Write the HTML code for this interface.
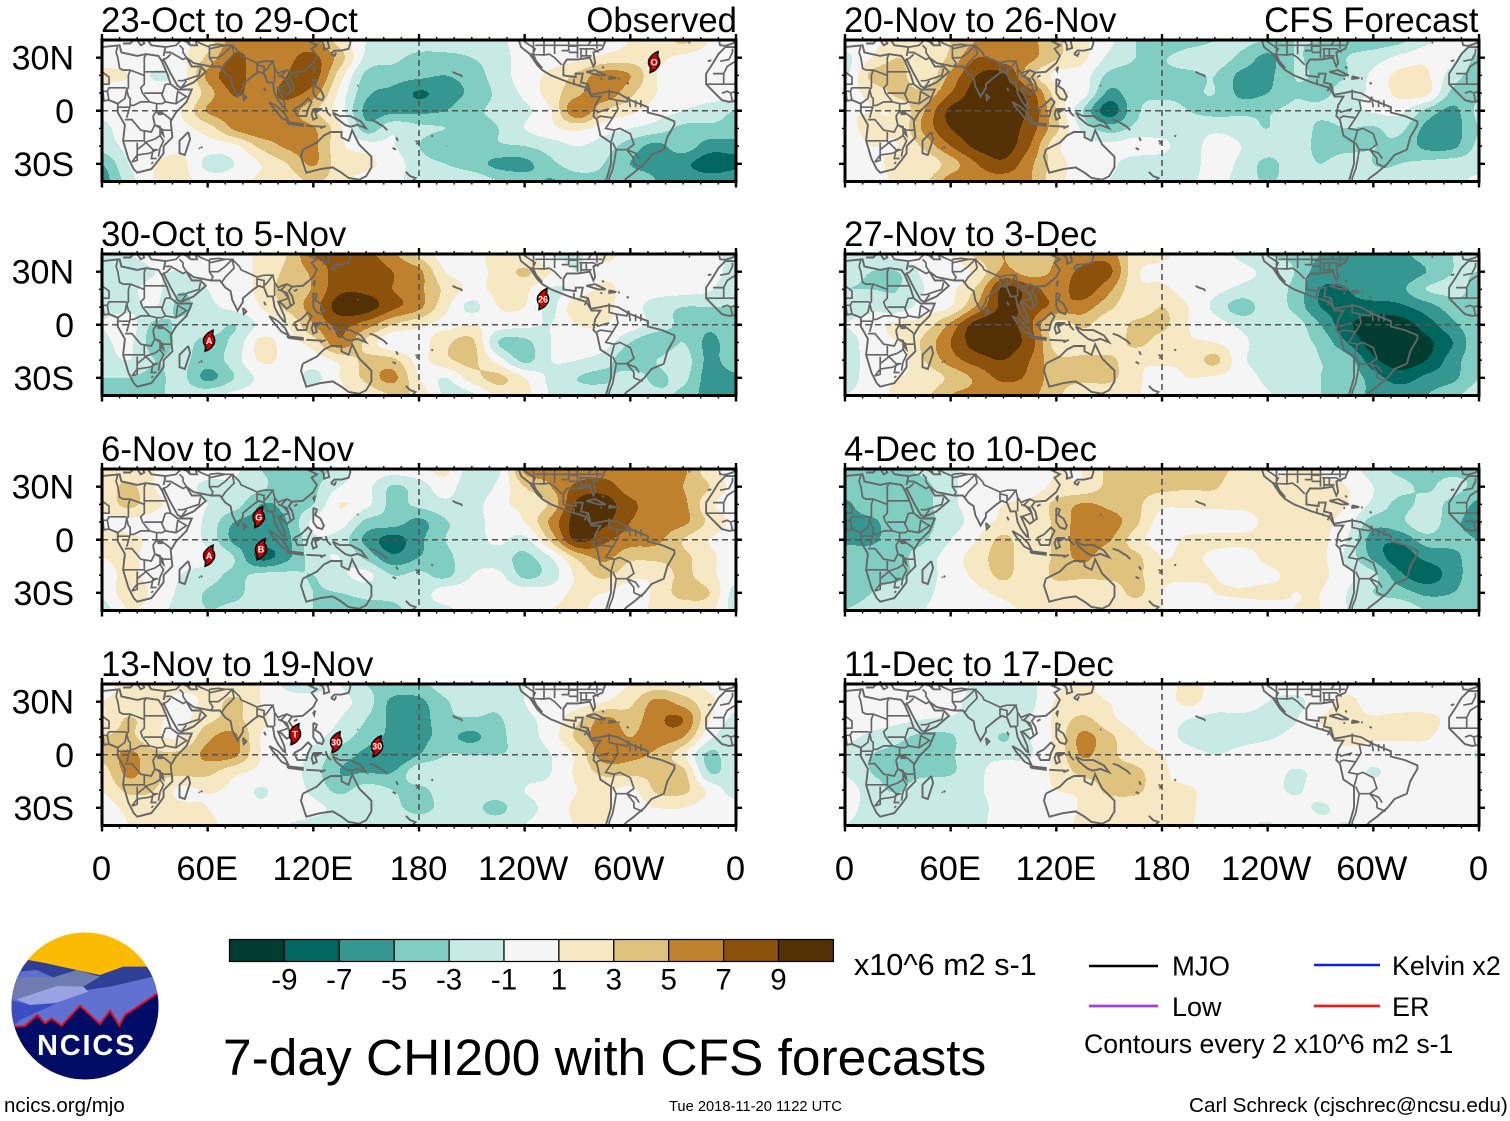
<!DOCTYPE html>
<html lang="en">
<head>
<meta charset="utf-8">
<title>7-day CHI200 with CFS forecasts</title>
<style>
html,body{margin:0;padding:0;background:#fff;}
svg{display:block;font-family:"Liberation Sans",Arial,sans-serif;}
</style>
</head>
<body>
<svg id="chart" xmlns="http://www.w3.org/2000/svg" width="1510" height="1121" viewBox="0 0 1510 1121">
  <rect width="1510" height="1121" fill="#fff"/>
  <g id="panels"></g>
  <g id="colorbar"></g>
  <text x="854" y="975" font-size="30.6">x10^6 m2 s-1</text>
  <text x="223" y="1075" font-size="51.45">7-day CHI200 with CFS forecasts</text>

  <g>
    <line x1="1089" x2="1158" y1="966" y2="966" stroke="#000" stroke-width="2.4"/>
    <text x="1172" y="975.5" font-size="27.5">MJO</text>
    <line x1="1314" x2="1380" y1="965" y2="965" stroke="#0a1fe8" stroke-width="2.4"/>
    <text x="1392" y="975" font-size="26.8">Kelvin x2</text>
    <line x1="1089" x2="1158" y1="1006" y2="1006" stroke="#a040d8" stroke-width="2.8"/>
    <text x="1172" y="1016" font-size="27">Low</text>
    <line x1="1314" x2="1380" y1="1006" y2="1006" stroke="#e8201c" stroke-width="2.8"/>
    <text x="1392" y="1016" font-size="27">ER</text>
    <text x="1084" y="1053" font-size="26.65">Contours every 2 x10^6 m2 s-1</text>
  </g>

  <text x="4" y="1112" font-size="20.5">ncics.org/mjo</text>
  <text x="669" y="1111" font-size="14.7">Tue 2018-11-20 1122 UTC</text>
  <text x="1189" y="1112" font-size="20.7">Carl Schreck (cjschrec@ncsu.edu)</text>

  <g>
    <clipPath id="logo-clip"><circle cx="85" cy="1006" r="73.5"/></clipPath>
    <g clip-path="url(#logo-clip)">
      <rect x="10" y="930" width="150" height="152" fill="#fbbb00"/>
      <g transform="translate(0,920) scale(.33333)">
        <polygon points="85,120 140,130 230,150 300,165 370,140 440,140 490,200 30,240 55,155" fill="#2f3f95"/>
        <polygon points="55,155 110,150 160,172 30,240" fill="#5a6fd0"/>
        <polygon points="40,175 100,170 160,172 230,150 300,170 250,200 260,210 50,240 25,240" fill="#6f7cb0"/>
        <polygon points="260,210 330,200 460,170 490,220 490,400 20,400 25,240" fill="#6171d2"/>
        <polygon points="50,238 170,198 250,200 265,215 170,248 90,255" fill="#97a3e2"/>
        <polygon points="25,238 90,255 170,250 60,300 40,320" fill="#3a4dc2"/>
        <polygon points="40,320 75,318 112,285 135,310 155,296 185,317 240,257 300,312 330,272 358,317 375,285 480,215 490,490 20,490" fill="#000c66"/>
        <polyline points="40,320 75,318 112,285 135,310 155,296 185,317 240,257 300,312 330,272 358,317 375,285 480,215" fill="none" stroke="#e0101c" stroke-width="6"/>
      </g>
    </g>
    <text x="37" y="1055" font-size="29" font-weight="bold" fill="#fff" letter-spacing="1.8">NCICS</text>
  </g>
</svg>

<script>
// ---------- axis / label data ----------
const lonTickValues = [0, 60, 120, 180, 240, 300, 360];
const lonTickLabels = ['0', '60E', '120E', '180', '120W', '60W', '0'];
const latTickValues = [30, 0, -30];
const latTickLabels = ['30N', '0', '30S'];
const colorLevels = [-9, -7, -5, -3, -1, 1, 3, 5, 7, 9];
const bandColors = ['#003c30', '#01665e', '#35978f', '#80cdc1', '#c7eae5', '#f5f5f5', '#f6e8c3', '#dfc27d', '#bf812d', '#8c510a', '#543005'];
const panelTitles = ['23-Oct to 29-Oct', '30-Oct to 5-Nov', '6-Nov to 12-Nov', '13-Nov to 19-Nov', '20-Nov to 26-Nov', '27-Nov to 3-Dec', '4-Dec to 10-Dec', '11-Dec to 17-Dec'];

// ---------- field values: rows 40N..40S every 10 deg, columns 0..360E every 15 deg ----------
const field1 = [
[0,0,0,0.5,2,6,6,6,5.5,2,-1,-2,-2,-2,-2,-1.5,0,0,0,0,1,1.5,3.5,1,0],
[0,0,0,0.5,3.5,7.3,6,6.5,7.5,4,-1.5,-2.5,-3.5,-3.5,-3,-2,0,0,0.5,1.5,2,1.5,0.5,0,0],
[1.5,1,-1.2,0,5.5,8,5.5,7,8,2,-3.5,-4,-4.5,-5,-4,-2,0,1.5,3.5,6,5,1,0,0,1],
[0,0,0,0,4,7.2,6,7.5,6,0.5,-4.5,-5.5,-7.2,-6,-4.5,-2.5,-0.5,2,4.5,6.5,3.5,1,0,0,0],
[-0.5,0,0,1,5.2,6,6,6,3.5,0,-5.5,-5.5,-5.5,-5,-3.5,-2.5,-1.5,1,6.8,3,1.5,0,-1,-2,-3],
[-1.5,0,0,0.5,2,5.3,6.5,5.5,5.2,1.5,-4,-1.5,-2.5,-3,-3.5,-3,-1,0.5,1.5,0,-1,-2,-3.5,-3.5,-3.5],
[-2,-0.5,0,0.5,0,0.5,3.5,5.3,5.5,1.5,0,-0.8,-3,-5,-3.5,-3.2,-3,-2,-1,-2,-4,-5.5,-4,-6,-6],
[-5,-1,1,1.5,-1.5,-1,1,3,5.2,2,1.5,0,-2,-3,-4,-5.5,-5.5,-3.5,-2,-3,-5,-5.5,-6.5,-8,-7.5],
[-6,-2,1,1.5,0,0,1.5,2,3.2,2,0,0,-2.5,-2,-1.5,-3,-4,-5.2,-4,-3.5,-4,-5,-5.5,-6,-5.5]];
const field2 = [
[-1.5,-1,0,0,0,0,1.5,3,7,7.5,7.5,5.5,2.5,0,0,2,1,-1,-1.5,1.5,0,0,0,-0.5,-1.5],
[-2.5,-2.5,-1,-1,0,0,1.5,3.5,5.5,8,8.5,7,5.5,1,0.5,1.5,3.3,1,-1,0.5,0,-0.5,0,0,-2],
[-2,-1.5,-0.5,-2.8,-1,0,1.5,4,5.2,8.5,8.5,7,5.5,2.5,0.5,1.5,1.5,-1.2,-0.3,1.5,0,-0.2,-0.2,-0.8,-3],
[-1.5,-1.5,-1,-3.5,-1.5,-0.5,1,3.5,6,10,10,7.5,5.5,1.5,-1.5,1,1,-1.5,2.5,1.5,0,-2,-3,-3,-3],
[-1,0,-3.5,-2.5,-2,-3,-0.5,1,5,7.5,6,3,1.5,0.5,1,0,-0.5,-1,1,1,0,-2,-3.5,-4.5,-3.5],
[-1.5,-0.5,-4,-2.5,-3.5,-2.5,1.5,0.5,2,6.5,2.5,-0.5,0,2.5,3.5,-3,-3.5,-1,0,0,-3,-4.5,-3,-5.5,-3.5],
[-2,-1,-3,-2.5,-4,-2,1.2,0.5,0,1.5,3.5,3.5,0.5,2.5,3.5,0,-3.5,-1,-1,-2,-4.5,-3,-2,-5.5,-3.5],
[-3,-3,-3.5,-2.5,-5.5,-3,-0.5,0,-1.5,1,3.5,5.5,1,-1,2,3.5,1,-1.5,-3,-3.5,-2,-3.5,-2.5,-6,-5.5],
[-3.5,-3.5,-3.5,-2,-1.5,-0.5,0,0,0,0.5,1.5,3,2.5,-1.5,-1.5,1.5,1.5,-1.2,-2,-1.5,-2,-2.5,-3.5,-6,-6]];
const field3 = [
[1.5,1.5,1,0,0,-0.5,-3,-3.5,-4,-2,0,0,0.5,1.5,-2,-1.5,5.5,5.5,6,6,6,6.5,5.5,1.5,0],
[1.5,3.5,1,0,-1.5,-1.5,-2.5,-4.5,-3.5,-1,-0.5,-3.2,-2,0,-2.5,-0.5,3,5,7.5,8,6,6.5,5,3,0],
[1.5,3.5,1.5,0,-1,-2,-5,-4.5,-3,1,-0.5,-3.5,-2.5,-1.5,-2,0.5,1.5,3.5,9.5,10,7.5,6,5.5,1.5,0],
[0.5,0.5,0,0,-1.5,-5,-5.5,-5,-0.5,0,-3.5,-4,-5.5,-3.2,-2,0,1,5.5,10,9.5,7,6,5.5,2.5,0.5],
[1.5,1.5,0.5,0,-1.5,-5.5,-6,-5.5,-1.5,-2,-5.5,-7.8,-5.5,-3,-2,-0.5,-1.5,3.5,9.5,7.5,6,5.5,3,1,0],
[1,1.5,0,-0.5,-0.5,-3,-7.5,-5.5,-2,-1,-3.5,-6.5,-5,-3.5,-2,-2,-3.5,-1,3.5,5.5,3.5,3.5,3.5,1.5,0],
[0,1.5,0,-1,-2,-3.5,-2.5,-2.5,-3,-1.5,-0.5,-3,-2.5,-3.5,-1,-0.5,-3.5,-2,1.5,3.5,1.5,1.5,3.5,1.5,0],
[-0.5,2,0.5,-1.5,-3.2,-3.5,-2,-2,-3,-3,-2.5,-2.5,-2,0,0,0.5,0,0,1.5,1,0,1.5,3.8,3,-2],
[-2,1,0,-2,-3,-2.5,-2,-2.5,-3,-3.5,-3.5,-3.5,-2,-1.5,0,0,0,1,1.5,0,0,1.5,1.5,1.5,-2]];
const field4 = [
[0.5,1.5,1.5,1.5,1.5,1.5,1,-1.5,-1.5,-1,-3,-3.5,-3.5,-2,-2,-2,-1,0,0,0,1,2,1.5,0.5,0],
[1,1.5,1.5,0.5,1.5,3.5,1,0,-0.5,-0.5,-2,-5.5,-5.5,-3.2,-2.2,-2.5,-1,0,0,1,2.5,5.5,4,1.5,-0.5],
[1,3.2,1.5,0.5,2.5,3.5,1.5,0,0,-1,-3,-5.5,-6,-3.5,-3.2,-3.2,-1.5,-0.2,2.5,5.5,4,6.5,7,1,-1.5],
[3,3.5,1.5,1,4.5,5.5,1,0,-0.5,-2,-4,-5.5,-5.5,-4.5,-5.5,-3.5,-2,0,3.5,6,5,6,5,-0.5,-2],
[3.5,5.5,3.5,3.5,5.5,5.5,1,0,-1.5,-4,-5.5,-7,-5,-3,-3,-3,-2.5,-1,1.5,6,5.5,4.5,1.5,-3.5,-1],
[2,5.5,3.5,3.5,3.5,1.5,0.5,0,-2,-5,-5,-5,-1.5,-2,-1.5,-2,-1.5,-1,1.5,3.5,3.5,3.5,3.5,-3,-1.5],
[1,3.5,3,0.5,1.2,0.5,-1.2,0,-1.5,-3.5,-2,-3,-3.5,-2,-2,-2,-1,-0.5,1,1.5,0.5,3.3,3.5,0.5,-2],
[0,1.5,1.5,1.5,1,0.5,-0.5,0,-0.5,-1.5,-1.5,-2.5,-3.5,-2.5,-2.5,-3.5,-1.5,-0.5,1.5,1.5,0,1,1,0,0],
[0,1,1.5,1.5,1.5,0,0,-1,-1.5,-2,-2,-2,-2,-2,-2,-2,-1,-0.5,1.2,1,0,-0.5,0,0,0]];
const field5 = [
[0,0.5,1.5,1.5,3,5,6,5.5,3.5,1.5,-0.5,-3,-5,-4,-3,-2.5,-3,-3,-3,-3.5,-4,-3.5,-1.5,0,-1],
[-1.5,1,3,1.5,3.5,7,6,5.5,3.2,1.5,-1.5,-3,-3.2,-2,-2,-3.5,-5.5,-3,-3.5,-3,-2,-0.5,0.5,-0.5,-3.5],
[-1.5,3.5,3.8,1.5,5.5,9,9.5,4,0.5,0,-3.5,-3.5,-3.5,-3.5,-3,-5.5,-5.5,-3,-3.2,-3,-0.5,1.5,1.3,-2,-4],
[0.5,1.5,3.5,3.5,7,10,10,8,2,0,-5.5,-3.5,-3.5,-3.5,-3,-5.5,-5,-3.2,-3.5,-2,-0.5,1.5,1.5,-3.5,-3.5],
[1,1,1.5,5,9.5,10,10,8.5,3,-3,-8,-3.5,-2,-3,-3.5,-3.5,-3.2,-2.5,-2.5,-1.5,-0.8,-0.5,-3.5,-5.5,-2.5],
[0.5,1.5,1.5,5.5,9,10,10,8,3.5,-1.5,-4,-2.5,-2,-2,-1.5,-2,-3,-1.5,-3.5,-3,-3.2,-2.5,-5.5,-6,-3],
[0,1,1,3.5,7,9.5,10,7,1.5,0,-0.5,0,-0.5,-2,0,-1,-2,-2,-3.5,-3.5,-3,-3.5,-5.5,-5.5,-2.5],
[0,0.5,1.5,1.5,4,7,8.5,5.5,2,0,-0.5,-2,-2,-2,0,-1.5,-3.5,-2,-3,-2,-3,-3,-2.5,-2,-2],
[0,0,1.5,2.5,6,6,6,5.2,1.5,0.5,-1,-2,-2,-1.5,-0.2,-2,-3.2,-2.2,-2,-2,-2.5,-2.5,-2,-1.5,-0.5]];
const field6 = [
[-1,-1.5,0,0,1,3.5,5,3.5,5,6,6,2,1.5,0,0,-1.5,-3,-3.5,-5,-5.5,-5.5,-5.5,-4,-3,-2.5],
[-2,-3,-3,-0.5,0,1.5,5.5,4,5.5,7.5,7.5,1.5,0.5,0,0,-0.5,-1.5,-3,-6,-5.5,-6,-6.5,-5,-3,-3],
[-3,-3,-3,-1,0.5,3.5,9.5,8,6,8,5.5,1.5,1.5,0,-0.5,-1.5,-2,-3.5,-7,-7,-5.5,-5.5,-3,-2.5,-3.5],
[-2,-1.5,-2,0,1,5.5,9.5,8,6.5,6,3.5,1.5,3,1,-1.5,-4,-2,-3.5,-7,-7.5,-8,-7.5,-6,-4,-3],
[-1,0,1.5,2,5.5,10,10,7.5,2,3.5,1.5,3.5,3.5,1,0,-1.5,-2,-2,-5,-8.5,-10,-10,-8,-5.5,-3.5],
[-2,0,1,3.5,7,10,10,8,2,1.5,1.5,3.5,2,1.2,1,-0.5,-2,-2.5,-3.5,-7,-10,-10,-9.5,-7,-3.5],
[-2,-0.2,0,3,6,8,9,7,3.5,3.5,3.5,1.5,1.5,1.5,3.5,-0.5,-2,-2.5,-3,-4,-8.5,-10,-9,-6,-3.5],
[-2,0,1,1.5,3.5,5.5,7.5,6.5,3.8,3.5,3.5,1.5,0,1,0.7,0,-1.5,-2.5,-3,-3.5,-6,-8,-6.5,-5.5,-3],
[-1,0,1.5,2.5,5,5.5,5.5,5.5,3.5,1.5,1.5,1.2,0,0,0,0,-0.8,-2,-3,-3.5,-5.5,-5.5,-5,-3.5,-2]];
const field7 = [
[-3.5,-3.5,-3.5,-2.5,-1.5,0,0,0,1,1,3.5,3.5,3.5,3.5,3.5,2.5,1,1,1,0,-2,-3.5,-3.5,-3.5,-3.5],
[-3.5,-3.5,-3.5,-3.5,-1.5,0,0,0,1.5,1.5,3.5,3.5,3.5,3.2,3.2,1.5,1.2,1.2,1.2,1,-1,-2.5,-3.2,-2.5,-3.5],
[-5.5,-3.5,-3.5,-3.5,-1.5,0,1,1.5,3.5,5.2,4.5,3.5,1.5,1.5,1.5,1.5,1.5,1.5,1.5,1,-1.5,-3.5,-2.5,-3.5,-5.5],
[-5.5,-5.5,-3.5,-3.5,-2,0,1.5,1.5,3.5,6,6,3.5,0,-0.5,0,0,1.5,1.5,1.5,0,-4,-3.5,-1.5,-4.5,-5.5],
[-5.5,-5.5,-3.5,-3.2,-1,1,3.5,1.5,3.5,6,5.2,2,0,1.5,1.5,1.5,1.5,1.5,1.5,-1,-6,-6.5,-4,-4.5,-5],
[-3.5,-3.5,-3.5,-2,0,2,3.8,1.5,3.5,5.5,3.5,3.5,1,1.5,0.5,0,1.5,1.5,1.5,-1.5,-5.5,-8,-6.5,-5.5,-4],
[-3.5,-3.5,-3.5,-2,0,1.5,3.5,1.5,3.5,3.5,3.5,3.5,1.5,1.5,1,0,0.5,1.5,1.5,-0.5,-2.5,-6.5,-8,-6,-3.5],
[-3.5,-3,-2,-1.5,0,0.5,1.5,1.5,1.5,1.5,1.5,3.5,1,0,1,1.2,1.5,1,1,-1,-3,-4,-5.5,-5,-3.5],
[-3,-2.5,-1.5,-1,0,0,0.5,1.5,1.5,1.5,1.5,1.5,1,0,0,0,0,1,1,-1,-1.5,-1.5,-3,-3.5,-3.5]];
const field8 = [
[0,0,0,0,0,-1.5,-2,-1.5,0.5,1.5,0.2,0,0,1.5,0.5,0,0,0,0,0,0,0,0,0,0],
[0,0,0,0,-0.5,-1.5,-1.5,-1.5,1.2,1.5,1,0,0,1.5,0,0,-1,-1.5,0,1.5,0,0,0,0,0],
[0,0,-0.5,-1,-1.2,-1.5,-1.5,-1,1.5,3.5,1.5,0.2,0,-1,-1.5,-1.5,-1.5,-1.2,1,1.5,1.2,1.5,1.5,0.5,0],
[-0.5,-1.5,-2.5,-3.5,-3.3,-1.2,-3.2,-1,1.5,5.5,3.5,1.2,0,-1.5,-1.8,-1.5,-1.2,-0.5,0.5,1.5,1.2,1.2,1.2,0,0],
[-1.5,-3,-3.5,-3.5,-3.2,-1.5,-1.5,-1.2,1.5,5.2,3.5,2,1,-0.3,-1,-0.5,0,0,0,0.5,0,0,0,0,-1.2],
[-1.2,-3,-3.5,-3.5,-3.2,-1.5,0,0,1.5,3.5,3.5,3.5,1.5,0,0,0,0,-1.2,-0.5,0,-1.2,0,0,0,0],
[0,-2,-3.2,-1.5,-1.5,-1.3,0,0,1,1.5,3.5,3.5,1.5,1.3,0,0,0,-1.3,0,0,0,0,0,0,0],
[-0.5,-1.5,-1.5,-1.5,-1.5,-1.5,-0.3,0,0,1.2,1.5,1.5,1.5,1.3,0,0,0,0,-1.3,0,0,0,0,0,0],
[-1,-1.5,-1.5,-1.5,-1.5,-1.5,0,0,0,1.5,1.5,1.5,1.5,1.2,0,-0.5,-1.2,0,-0.2,-1.2,0,0,0,0,0]];
const panelFields = [field1, field2, field3, field4, field5, field6, field7, field8];

// ---------- tropical cyclones: panel index, label, lon, lat ----------
const stormPanels = [0, 1, 1, 2, 2, 2, 3, 3, 3];
const stormLabels = ['O', 'A', '26', 'A', 'G', 'B', 'T', '30', '30'];
const stormLons = [313.5, 60.8, 250.4, 60.8, 89, 90.3, 109.6, 132.9, 156.2];
const stormLats = [27.5, -9, 14.5, -9, 12.8, -5.4, 11.6, 7.1, 4.8];

// ---------- geography (lon 0..360, lat) ----------
const coastlines = [
[[0,36],[10,37],[11,33],[20,31],[25,32],[32,31],[34,28],[37,21],[39,15],[43,12],[51,12],[48,5],[42,-1],[39,-6],[40,-15],[35,-20],[35,-24],[32,-28],[28,-33],[20,-35],[18,-33],[15,-27],[12,-17],[13,-8],[9,-1],[9,4],[4,6],[0,5.5]],
[[49,-12],[50,-16],[47,-25],[44,-24],[44,-17],[49,-12]],
[[34,28],[35,29],[39,21],[43,14],[45,13],[52,16],[59,22],[56,25],[51,25],[48,30],[52,27],[57,26],[62,25],[67,25],[70,21],[73,19],[74,14],[77,8],[80,13],[80,15],[86,20],[89,22],[92,21],[94,16],[97,16],[98,10],[100,6],[103,2],[104,1.5],[103.5,5],[100,13],[101,13],[105,9],[109,12],[108,16],[106,19],[108,21.5],[114,22],[120,27],[122,31],[119,35],[122,37],[118,39],[122,40],[125,39],[126,37],[126,34.5],[129,35.5],[128,40]],
[[35,31],[36,36],[28,37],[26,40]],[[12,38],[16,38],[18,40]],[[20,40],[22,37],[24,38],[23,40]],[[50,37],[54,37],[53,40]],[[50,37],[49,40]],
[[130,32],[132,34],[136,34],[140,35],[141,38],[141,40]],[[130,32],[132,31],[133,33]],[[121,25],[120.5,22.5],[120,23.5],[121,25]],
[[120,18],[122,17],[121,14],[124,12],[126,8],[125,6],[122,7],[120,10],[120,14],[120,18]],
[[109,1],[113,3],[117,7],[119,5],[117,1],[116,-3],[111,-3],[109,1]],
[[95,5],[100,2],[104,-2],[106,-6],[102,-4],[97,2],[95,5]],
[[105,-6.5],[114,-7.5],[114,-8.5],[106,-7.5],[105,-6.5]],[[116,-8.5],[125,-9]],[[124,-10],[127,-8.5]],
[[120,1],[125,1],[121,-1],[122,-4],[120,-5],[119,-2],[120,1]],[[127,2],[128,-1],[130,-3]],
[[131,-1],[135,-3],[141,-3],[147,-6],[150,-10],[145,-8],[141,-9],[138,-8],[133,-4],[131,-1]],
[[114,-22],[122,-18],[126,-14],[130,-12],[136,-12],[136,-15],[140,-17],[142,-11],[146,-19],[153,-26],[153,-32],[150,-37],[146,-39],[140,-38],[136,-35],[131,-32],[124,-33],[116,-35],[115,-32],[113,-26],[114,-22]],
[[172.5,-34.5],[175,-37],[178,-38],[176,-40]],
[[152,-5],[155,-6],[160,-9],[162,-11]],[[167,-15],[168,-17]],[[165,-21],[167,-22]],[[178,-17],[180,-18]],[[178.5,-19],[179.5,-18]],[[187,-14],[188,-14.5]],[[199,22],[201,21],[204,20],[204.5,19]],[[145,14],[145.5,14.5]],[[56,-21],[57,-20.5]],[[55,-21],[55.5,-21.5]],[[80,9.5],[82,7.5],[80.5,6],[80,9.5]],[[92,13],[93,11]],[[333,38.5],[334,38.5]],[[109,19],[111,20]],
[[236.6,40],[238,36],[243,32],[245,30],[250,24],[247,27],[245,31.5]],
[[243,32],[247,26],[250,23],[255,20],[265,16],[275,13],[278,8],[283,8],[280,3],[279,-3],[281,-5],[283,-14],[289,-18],[289,-30],[287,-37],[286,-40]],
[[277.5,9],[276,15],[272,16],[273,21],[269,21],[269,19],[262,20],[262,26],[264,29],[270,29],[277,30],[279,25],[280,27],[279,33],[284,35],[286,40]],
[[277.5,9],[283,10],[288,11],[293,10],[300,6],[310,2],[310,-1],[318,-3],[325,-6],[325,-8],[321,-15],[319,-22],[312,-25],[308,-30],[302,-35],[298,-38],[296,-40]],
[[275,22],[280,23],[286,20],[282,20],[275,22]],[[288,19.5],[292,18.5],[288,18],[288,19.5]],[[283,18],[284,18]],[[293,18.3],[294,18.3]],[[298,16],[299,15]],[[284,25],[285,24]],
[[360,5.5],[356,5],[352,6],[347,11],[343,15],[343,21],[347,27],[350,32],[354,36],[360,36]],[[350.5,39],[351,37],[354,36.7],[358,38],[360,39.5]],[[344,28],[346,28.5]]
];
const borders = [
[[9,37],[8,33],[9,30],[10,24],[12,23],[16,23],[24,20],[24,30],[25,32]],[[24,22],[37,22]],[[24,20],[24,15],[22,13],[23,10],[27,5],[31,4],[34,4],[36,5],[42,4],[48,8],[43,11]],
[[16,23],[15,20],[15,13],[14,12],[15,8],[16,7],[16,3],[18,3],[22,5],[27,5]],[[4,6],[3,11],[4,13],[14,13]],[[14,12],[13,7],[9,4]],[[0,15],[4,15],[4,19],[0,22]],[[3,11],[0,11],[0,15]],[[1,6],[0.5,11]],
[[13,-5],[17,-5],[22,-11],[28,-12],[30,-8],[29,-3],[31,0],[31,4]],[[12,-17],[24,-17],[24,-11]],[[24,-18],[30,-16],[33,-14],[33,-9],[30,-8]],[[17,-29],[20,-28],[20,-18]],[[20,-22],[25,-18]],[[33,-14],[35,-17],[33,-21],[32,-26]],[[35,-11],[40,-11]],[[31,-1],[34,-1],[38,-4],[39,-5]],[[30,-8],[35,-11]],[[25,-18],[29,-22],[32,-22]],[[17,-29],[20,-25],[27,-24],[31,-22]],
[[32,0],[34,0],[34,-2],[32,-2],[32,0]],[[34,-10],[35,-14],[34,-13],[34,-10]],[[29,-4],[30,-8]],[[36,15],[34,9],[36,5]],[[43,11],[42,4]],[[36,15],[39,15]],[[24,10],[34,10]],[[10,2],[16,2]],[[9,2],[14,2]],[[16,3],[14,-4]],[[29,-22],[28,-27],[31,-27]],[[28,-30],[29,-29]],
[[347,21],[353,21],[355,25],[358,27],[360,28]],[[343,15],[348,15],[355,15],[360,15]],[[352,10],[355,11],[357,10],[358,5]],[[357,10],[360,11]],[[353,21],[353,15]],[[351,28],[356,29],[358,33],[358,35]],
[[36,36],[42,37],[45,40]],[[36,33],[39,33],[46,29],[48,30]],[[44,37],[46,35],[46,33],[48,30]],[[35,29],[37,30],[39,32]],[[43,17],[46,17],[52,19],[55,20],[56,24]],[[45,13],[48,17]],
[[61,37],[61,30],[63,27],[62,25]],[[61,35],[70,37],[74,37],[70,33],[66,30],[61,30]],[[74,37],[75,32],[70,27],[68,24]],[[78,33],[79,31],[88,27],[92,28],[97,28],[94,24],[92,22],[92,25],[88,26],[88,22]],[[97,28],[98,24],[100,21],[102,22],[105,23],[108,21.5]],[[100,20],[105,18],[106,15],[103,14],[100,13]],[[98,24],[98,16]],[[105,23],[102,20],[106,15],[107,11]],[[53,40],[56,38],[61,36]],[[61,37],[66,37.5],[70,37]],[[74,37],[78,33]],[[124,40],[128,40]],[[45,40],[48,39],[50,37]],
[[268,18],[268,14.5]],[[271,15],[272,13.5]],[[276,15],[274,11]],[[282,8],[283,7]],[[288,12],[288,7],[292,6],[293,1],[290,-4],[283,-3],[281,-4]],[[292,6],[298,5],[299,8]],[[299,8],[300,2]],[[303,6],[303,2]],[[306,6],[306,2]],[[290,-4],[286,-10],[291,-11],[294,-10],[300,-13],[302,-19],[298,-22]],[[290,-18],[292,-22],[291,-28],[290,-33],[288,-38],[288,-40]],[[292,-22],[298,-22],[302,-27],[302,-30]],[[298,-22],[303,-24],[305,-27]],[[302,-30],[307,-32]],[[289,-18],[291,-11]],[[281,-1],[284,0],[288,1]],
[[240,40],[240,39],[246,35],[245,33]],[[245,40],[245,32]],[[251,40],[251,31.5]],[[257,40],[257,32]],[[246,37],[258,37],[265,37],[276,37],[284,37]],[[243,32],[251,31.5],[254,32],[257,30],[261,26]],[[265,40],[265,34],[261,34]],[[270,40],[270,30]],[[272,35],[272,30]],[[275,35],[275,31]],[[265,33],[270,33]],[[271,35],[279,35],[282,33]],[[258,40],[265,40]],[[265,36.5],[270,36.5]],[[276,37],[278,40]],[[281,35],[281,40]],[[278,31],[272,31]]
];

// ---------- layout ----------
const SVGNS = 'http://www.w3.org/2000/svg';
const panelLefts = [102, 102, 102, 102, 845, 845, 845, 845];
const panelTops = [40, 254, 469, 684, 40, 254, 469, 684];
const panelW = 634, panelH = 141.5;

function create(tag, parent) {
  const el = document.createElementNS(SVGNS, tag);
  parent.appendChild(el);
  return el;
}
function xPos(panel, lon) { return panelLefts[panel] + lon / 360 * panelW; }
function yPos(panel, lat) { return panelTops[panel] + (40 - lat) / 80 * panelH; }

function catmull(a, b, c, d, t) {
  return b + 0.5 * t * (c - a + t * (2 * a - 5 * b + 4 * c - d + t * (3 * (b - c) + d - a)));
}
function sample(grid, lon, lat) {
  const nr = grid.length, nc = grid[0].length;
  const fx = lon / 15, fy = (40 - lat) / 10;
  const ix = Math.min(Math.floor(fx), nc - 2), iy = Math.min(Math.floor(fy), nr - 2);
  const tx = fx - ix, ty = fy - iy;
  const rowVals = [];
  for (let j = -1; j <= 2; j++) {
    const r = grid[Math.max(0, Math.min(nr - 1, iy + j))];
    rowVals.push(catmull(
      r[Math.max(0, ix - 1)], r[ix], r[ix + 1], r[Math.min(nc - 1, ix + 2)], tx));
  }
  return catmull(rowVals[0], rowVals[1], rowVals[2], rowVals[3], ty);
}
function bandOf(v) {
  let b = 0;
  while (b < colorLevels.length && v >= colorLevels[b]) b++;
  return b;
}
function linePath(panel, lines) {
  let d = '';
  lines.forEach(function (line) {
    line.forEach(function (p, i) {
      d += (i ? 'L' : 'M') + xPos(panel, p[0]).toFixed(1) + ' ' + yPos(panel, p[1]).toFixed(1);
    });
  });
  return d;
}

const panelsRoot = document.getElementById('panels');

panelFields.forEach(function (grid, p) {
  const L = panelLefts[p], T = panelTops[p];
  const g = create('g', panelsRoot);
  
  

  const clip = create('clipPath', g);
  clip.setAttribute('id', 'clip-' + p);
  const clipRect = create('rect', clip);
  clipRect.setAttribute('x', L);
  clipRect.setAttribute('y', T);
  clipRect.setAttribute('width', panelW);
  clipRect.setAttribute('height', panelH);

  // filled contour bands, one path per band
  const dByBand = bandColors.map(function () { return []; });
  const rows = Math.ceil(panelH);
  for (let y = 0; y < rows; y++) {
    const lat = 40 - (y + 0.5) / panelH * 80;
    let start = 0, cur = -1;
    for (let x = 0; x <= panelW; x++) {
      const b = x < panelW ? bandOf(sample(grid, (x + 0.5) / panelW * 360, Math.max(-40, lat))) : -2;
      if (b !== cur) {
        if (cur >= 0) dByBand[cur].push('M' + (L + start) + ' ' + (T + y) + 'h' + (x - start) + 'v1h' + (start - x) + 'z');
        start = x;
        cur = b;
      }
    }
  }
  const fieldG = create('g', g);
  
  
  fieldG.setAttribute('clip-path', 'url(#clip-' + p + ')');
  dByBand.forEach(function (parts, b) {
    if (!parts.length) return;
    const path = create('path', fieldG);
    
    
    path.setAttribute('d', parts.join(''));
    path.setAttribute('fill', bandColors[b]);
    path.setAttribute('shape-rendering', 'crispEdges');
  });

  // coastlines and borders
  const coast = create('path', fieldG);
  
  
  coast.setAttribute('d', linePath(p, coastlines));
  coast.setAttribute('fill', 'none');
  coast.setAttribute('stroke', '#666');
  coast.setAttribute('stroke-width', '1.9');
  const bord = create('path', fieldG);
  
  
  bord.setAttribute('d', linePath(p, borders));
  bord.setAttribute('fill', 'none');
  bord.setAttribute('stroke', '#666');
  bord.setAttribute('stroke-width', '1.7');

  // reference dashed lines
  const eq = create('line', g);
  
  
  eq.setAttribute('x1', L);
  eq.setAttribute('x2', L + panelW);
  eq.setAttribute('y1', yPos(p, 0));
  eq.setAttribute('y2', yPos(p, 0));
  eq.setAttribute('stroke', '#555');
  eq.setAttribute('stroke-width', '1.6');
  eq.setAttribute('stroke-dasharray', '6 4');
  const dl = create('line', g);
  
  
  dl.setAttribute('x1', xPos(p, 180));
  dl.setAttribute('x2', xPos(p, 180));
  dl.setAttribute('y1', T);
  dl.setAttribute('y2', T + panelH);
  dl.setAttribute('stroke', '#555');
  dl.setAttribute('stroke-width', '1.6');
  dl.setAttribute('stroke-dasharray', '6 4');

  // ticks
  let major = '', minor = '';
  for (let lon = 0; lon <= 360; lon += 10) {
    const x = xPos(p, lon);
    const isMajor = lon % 60 === 0;
    const len = isMajor ? 6 : 3;
    const seg = 'M' + x + ' ' + T + 'v-' + len + 'M' + x + ' ' + (T + panelH) + 'v' + len;
    if (isMajor) major += seg; else minor += seg;
  }
  for (let lat = -30; lat <= 30; lat += 10) {
    const y = yPos(p, lat);
    const isMajor = lat % 30 === 0;
    const len = isMajor ? 6 : 3;
    const seg = 'M' + L + ' ' + y + 'h-' + len + 'M' + (L + panelW) + ' ' + y + 'h' + len;
    if (isMajor) major += seg; else minor += seg;
  }
  const tickMaj = create('path', g);
  
  
  tickMaj.setAttribute('d', major);
  tickMaj.setAttribute('stroke', '#000');
  tickMaj.setAttribute('stroke-width', '2.4');
  const tickMin = create('path', g);
  
  
  tickMin.setAttribute('d', minor);
  tickMin.setAttribute('stroke', '#000');
  tickMin.setAttribute('stroke-width', '1.4');

  // frame
  const frame = create('rect', g);
  
  
  frame.setAttribute('x', L);
  frame.setAttribute('y', T);
  frame.setAttribute('width', panelW);
  frame.setAttribute('height', panelH);
  frame.setAttribute('fill', 'none');
  frame.setAttribute('stroke', '#000');
  frame.setAttribute('stroke-width', '3');

  // panel title
  const title = create('text', g);
  
  
  title.setAttribute('x', L - 1);
  title.setAttribute('y', T - 8);
  title.setAttribute('font-size', '34.75');
  title.textContent = panelTitles[p];

  // y-axis labels, left column only
  if (p < 4) {
    latTickValues.forEach(function (lat, i) {
      const t = create('text', g);
      
      
      t.setAttribute('x', 74);
      t.setAttribute('y', yPos(p, lat) + 12);
      t.setAttribute('font-size', '34');
      t.setAttribute('text-anchor', 'end');
      t.textContent = latTickLabels[i];
    });
  }
  // x-axis labels, bottom row only
  if (p === 3 || p === 7) {
    lonTickValues.forEach(function (lon, i) {
      const t = create('text', g);
      
      
      t.setAttribute('x', xPos(p, lon) - (lonTickLabels[i].endsWith('W') ? 1.5 : 0.5));
      t.setAttribute('y', 880);
      t.setAttribute('font-size', '34.6');
      t.setAttribute('text-anchor', 'middle');
      t.textContent = lonTickLabels[i];
    });
  }
});

// column headers
[['observed-label', 'Observed', 737], ['cfs-forecast-label', 'CFS Forecast', 1478.5]].forEach(function (h) {
  const t = create('text', panelsRoot);
  
  
  t.setAttribute('x', h[2]);
  t.setAttribute('y', 32);
  t.setAttribute('font-size', '34.75');
  t.setAttribute('text-anchor', 'end');
  t.textContent = h[1];
});

// tropical cyclone symbols
stormLabels.forEach(function (label, i) {
  const p = stormPanels[i];
  const g = create('g', panelsRoot);
  
  
  g.setAttribute('transform', 'translate(' + xPos(p, stormLons[i]).toFixed(1) + ',' + yPos(p, stormLats[i]).toFixed(1) + ')');
  const s = create('path', g);
  
  
  s.setAttribute('d', 'M4 -10.5Q-1 -8.5 -3.5 -5C-6.5 -2 -6 3 -3.5 5.5L-4 10.5Q1.5 8.5 3.5 5C6.5 2 6 -3 3.5 -5.5Z');
  s.setAttribute('fill', '#c80000');
  s.setAttribute('stroke', '#000');
  s.setAttribute('stroke-width', '1.5');
  const t = create('text', g);
  
  
  t.setAttribute('y', 3.2);
  t.setAttribute('font-size', '9');
  t.setAttribute('font-weight', 'bold');
  t.setAttribute('fill', '#fff');
  t.setAttribute('text-anchor', 'middle');
  t.textContent = label;
});

// colour bar
const barRoot = document.getElementById('colorbar');
const barLeft = 229.5, barTop = 939.5, barH = 22, boxW = 54.9;
bandColors.forEach(function (c, i) {
  const r = create('rect', barRoot);
  
  
  r.setAttribute('x', barLeft + i * boxW);
  r.setAttribute('y', barTop);
  r.setAttribute('width', boxW);
  r.setAttribute('height', barH);
  r.setAttribute('fill', c);
  r.setAttribute('stroke', '#000');
  r.setAttribute('stroke-width', '1.2');
});
colorLevels.forEach(function (lv, i) {
  const t = create('text', barRoot);
  
  
  t.setAttribute('x', barLeft + (i + 1) * boxW);
  t.setAttribute('y', 989.5);
  t.setAttribute('font-size', '29.5');
  t.setAttribute('text-anchor', 'middle');
  t.textContent = String(lv);
});
</script>
</body>
</html>
